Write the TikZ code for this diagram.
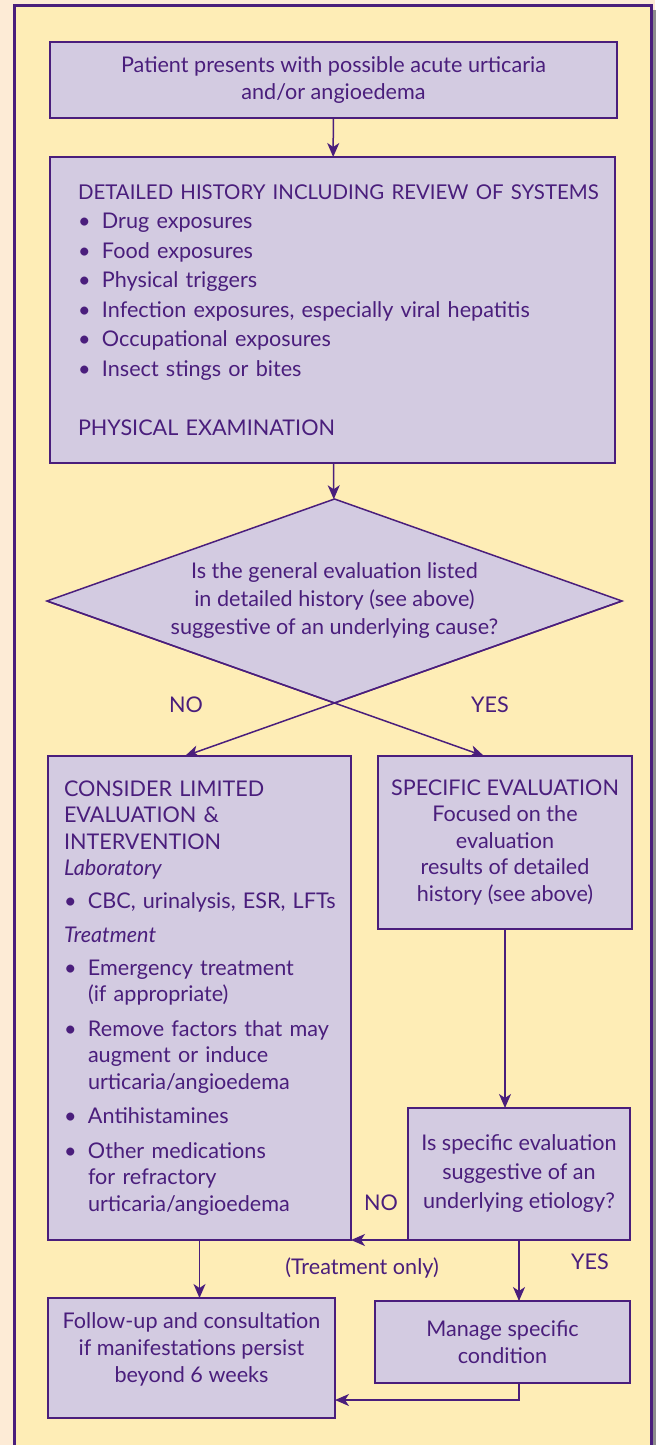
\documentclass[tikz,border=0pt]{standalone}
\usepackage{fontspec}
\setmainfont{Lato}
\usetikzlibrary{arrows.meta,calc,positioning,shapes.geometric}
\definecolor{bgout}{HTML}{FDEBD6}
\definecolor{bgin}{HTML}{FEEDB6}
\definecolor{boxfill}{HTML}{D3CBE1}
\definecolor{purp}{HTML}{4A1E7C}
\tikzstyle{state}=[draw=purp, fill=boxfill, line width=0.75pt, inner sep=0pt, outer sep=0pt]
\tikzstyle{lbl}=[text=purp, inner sep=0pt]
\tikzstyle{conn}=[->, draw=purp, line width=0.75pt]
\newcommand{\bul}{\makebox[12pt][l]{\textbullet}}
\newcommand{\bulind}{\hspace*{12pt}}

\begin{document}
\begin{tikzpicture}[x=0.5pt,y=-0.5pt,>={Stealth[length=7pt,width=6pt,inset=2pt]},font={\fontsize{10.8}{13.5}\selectfont},text=purp]

  \useasboundingbox (0,0) rectangle (655,1445);
  \fill[bgout] (0,0) rectangle (655,1445);
  \fill[black!45] (652,10) rectangle (656,1470);
  \draw[purp, line width=1.5pt, fill=bgin] (14,6) rectangle (651,1470);

  \node [state, minimum width=283.5pt, minimum height=38pt, align=center] (pres) at (333.5,80)
    {Patient presents with possible acute urticaria\\and/or angioedema};
  \node [state, minimum height=153pt, text width=254.5pt, inner xsep=14pt, align=left,
    font={\fontsize{10.8}{14.75}\selectfont}] (hist) at (332.5,310)
    {\mbox{\fontsize{10.2}{14.75}\selectfont DETAILED HISTORY INCLUDING REVIEW OF SYSTEMS}\\
     \bul Drug exposures\\
     \bul Food exposures\\
     \bul Physical triggers\\
     \bul Infection exposures, especially viral hepatitis\\
     \bul Occupational exposures\\
     \bul Insect stings or bites\\[14.75pt]
     PHYSICAL EXAMINATION};
  \node [state, diamond, aspect=2.9, minimum width=287.5pt, minimum height=102pt, align=center,
    font={\fontsize{10.8}{14}\selectfont}] (gen) at (334.5,601)
    {Is the general evaluation listed\\in detailed history (see above)\\suggestive of an underlying cause?};
  \coordinate (noend) at ($(gen.east)!1.52!(gen.south)$);
  \coordinate (yesend) at ($(gen.west)!1.52!(gen.south)$);

  \node [lbl] (no1) at (186,705) {NO};
  \node [lbl] (yes1) at (490,705) {YES};

  \node [state, minimum height=242pt, text width=135.5pt, inner xsep=8pt, align=left,
    font={\fontsize{10.8}{13.25}\selectfont}] (lim) at (199.5,998)
    {CONSIDER LIMITED\\
     EVALUATION \&\\
     INTERVENTION\\
     \textit{Laboratory}\\[3pt]
     \bul \mbox{CBC, urinalysis, ESR, LFTs}\\[4pt]
     \textit{Treatment}\\[3pt]
     \bul Emergency treatment\\
     \bulind (if appropriate)\\[4pt]
     \bul \mbox{Remove factors that may}\\
     \bulind augment or induce\\
     \bulind urticaria/angioedema\\[4pt]
     \bul Antihistamines\\[4pt]
     \bul Other medications\\
     \bulind for refractory\\
     \bulind urticaria/angioedema};
  \node [state, minimum width=127pt, minimum height=86.5pt, align=center,
    font={\fontsize{10.8}{13.25}\selectfont}] (spec) at (505,842.5)
    {SPECIFIC EVALUATION\\Focused on the\\evaluation\\results of detailed\\history (see above)};
  \node [state, minimum width=111pt, minimum height=66pt, align=center,
    font={\fontsize{10.8}{14.5}\selectfont}] (etio) at (519,1174)
    {Is specific evaluation\\suggestive of an\\underlying etiology?};

  \node [lbl] (no2) at (381,1203) {NO};
  \node [lbl] (yes2) at (590,1262) {YES};
  \node [lbl] (trt) at (362,1268) {(Treatment only)};

  \node [state, minimum width=143.5pt, minimum height=60pt, align=center] (fup) at (191.5,1358)
    {Follow-up and consultation\\if manifestations persist\\beyond 6 weeks\\[-3pt]\mbox{}};
  \node [state, minimum width=127.5pt, minimum height=41pt, align=center] (mng) at (502.5,1342)
    {Manage specific\\condition};

  \draw [conn] (pres) -- (hist);
  \draw [conn] (hist) -- (gen);
  \draw [conn] (gen.east) -- (noend);
  \draw [conn] (gen.west) -- (yesend);
  \draw [conn] (spec.south) -- (spec.south |- etio.north);
  \draw [conn] (etio.south west) -- (lim.south east);
  \draw [conn] (etio.south) -- (etio.south |- mng.north);
  \draw [conn] (lim.south) -- (lim.south |- fup.north);
  \draw [conn] ([xshift=8.25pt]mng.south) |- ([yshift=-21pt]fup.east);
\end{tikzpicture}
\end{document}
